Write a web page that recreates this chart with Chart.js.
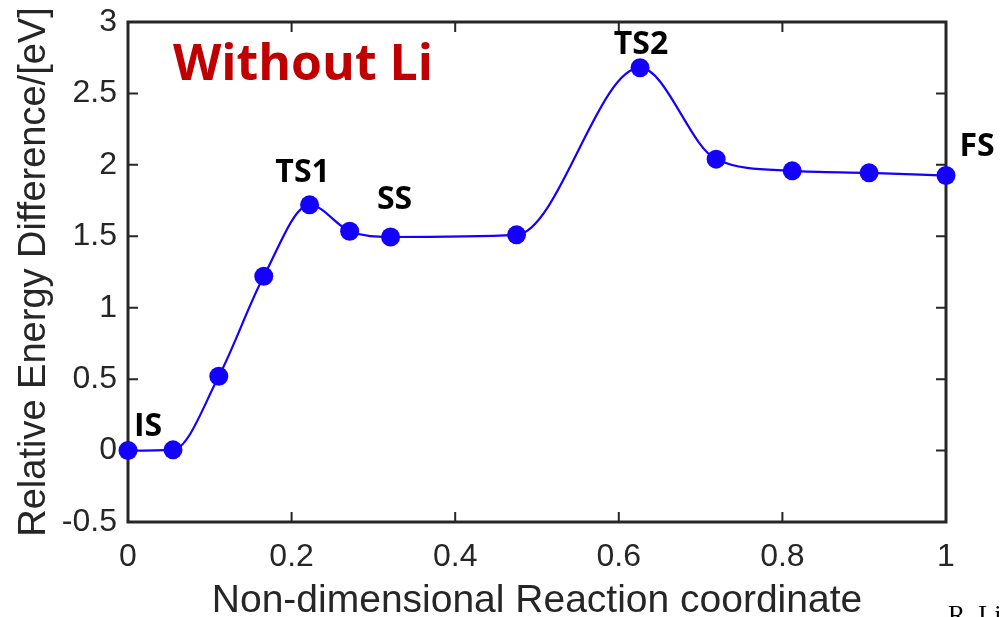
<!DOCTYPE html>
<html>
<head>
<meta charset="utf-8">
<script src="https://cdn.jsdelivr.net/npm/chart.js@4"></script>
<style>
    body { margin: 0; background: #fff; }
    #wrap { position: relative; width: 1000px; height: 617px; }
</style>
</head>
<body>
<div id="wrap"><canvas id="energyChart" width="1000" height="617"></canvas></div>
<script>
// reaction coordinate and relative energy (eV)
const coords = [0, 0.055, 0.111, 0.166, 0.222, 0.271, 0.321, 0.475, 0.626, 0.719, 0.812, 0.906, 1.0];
const energies = [0, 0.005, 0.52, 1.22, 1.72, 1.535, 1.495, 1.51, 2.68, 2.04, 1.958, 1.944, 1.925];
const xTicks = [0, 0.2, 0.4, 0.6, 0.8, 1];
const yTicks = [-0.5, 0, 0.5, 1, 1.5, 2, 2.5, 3];
const stateNames = ["IS", "TS1", "SS", "TS2", "FS"];
const statePoints = [0, 4, 6, 8, 12];

const axisColor = "#262626";
const lineBlue = "#1400ff";

// pixel nudges for the state labels, relative to their point
const labelShift = {
    IS: [20, -15], TS1: [-7, -23], SS: [4, -28], TS2: [1, -14], FS: [31, -20]
};

const boxPlugin = {
    id: "matlabBox",
    beforeDatasetsDraw(chart) {
        const { ctx, chartArea: a, scales } = chart;
        ctx.save();
        ctx.strokeStyle = axisColor;
        ctx.lineWidth = 3;
        ctx.strokeRect(a.left, a.top, a.right - a.left, a.bottom - a.top);
        ctx.lineWidth = 2;
        ctx.beginPath();
        xTicks.forEach(v => {
            const px = scales.x.getPixelForValue(v);
            ctx.moveTo(px, a.bottom); ctx.lineTo(px, a.bottom - 10);
            ctx.moveTo(px, a.top); ctx.lineTo(px, a.top + 10);
        });
        yTicks.forEach(v => {
            const py = scales.y.getPixelForValue(v);
            ctx.moveTo(a.left, py); ctx.lineTo(a.left + 10, py);
            ctx.moveTo(a.right, py); ctx.lineTo(a.right - 10, py);
        });
        ctx.stroke();
        ctx.restore();
    },
    afterDraw(chart) {
        const { ctx, scales } = chart;
        ctx.save();
        ctx.textAlign = "center";
        ctx.textBaseline = "alphabetic";
        ctx.fillStyle = "#000";
        ctx.font = "bold 32px 'Open Sans'";
        stateNames.forEach((name, i) => {
            const k = statePoints[i];
            const px = scales.x.getPixelForValue(coords[k]);
            const py = scales.y.getPixelForValue(energies[k]);
            ctx.fillText(name, px + labelShift[name][0], py + labelShift[name][1]);
        });
        ctx.fillStyle = "#c00000";
        ctx.font = "bold 50px 'Open Sans'";
        ctx.fillText("Without Li", 303, 80);
        ctx.fillStyle = "#000";
        ctx.textAlign = "left";
        ctx.font = "26px 'Liberation Serif'";
        ctx.fillText("R. Li", 948, 623);
        ctx.restore();
    }
};

new Chart(document.getElementById("energyChart"), {
    type: "line",
    data: {
        datasets: [{
            data: coords.map((c, i) => ({ x: c, y: energies[i] })),
            borderColor: lineBlue,
            backgroundColor: lineBlue,
            borderWidth: 2.2,
            pointRadius: 9.5,
            pointBorderWidth: 0,
            pointBackgroundColor: lineBlue,
            cubicInterpolationMode: "monotone",
            fill: false,
            clip: false
        }]
    },
    options: {
        responsive: false,
        animation: false,
        layout: { padding: { left: 10, top: 22, right: 54, bottom: 0 } },
        plugins: { legend: { display: false }, tooltip: { enabled: false } },
        scales: {
            x: {
                type: "linear",
                min: 0,
                max: 1,
                afterFit(scale) { scale.height = 95; },
                afterBuildTicks(scale) { scale.ticks = xTicks.map(v => ({ value: v })); },
                grid: { display: false, drawTicks: false },
                border: { display: false },
                ticks: {
                    color: axisColor,
                    padding: 16,
                    font: { family: "'Liberation Sans'", size: 32 },
                    maxRotation: 0,
                    callback: v => String(v)
                },
                title: {
                    display: true,
                    text: "Non-dimensional Reaction coordinate",
                    color: axisColor,
                    font: { family: "'Liberation Sans'", size: 39, lineHeight: 0.6 }
                }
            },
            y: {
                min: -0.5,
                max: 3,
                afterFit(scale) {
                    scale.width = 118;
                    scale.paddingTop = 0;
                    scale.paddingBottom = 0;
                },
                afterBuildTicks(scale) { scale.ticks = yTicks.map(v => ({ value: v })); },
                grid: { display: false, drawTicks: false },
                border: { display: false },
                ticks: {
                    color: axisColor,
                    padding: 11,
                    font: { family: "'Liberation Sans'", size: 32 },
                    callback: v => String(v)
                },
                title: {
                    display: true,
                    text: "Relative Energy Difference/[eV]",
                    color: axisColor,
                    font: { family: "'Liberation Sans'", size: 38, lineHeight: 1.1 }
                }
            }
        }
    },
    plugins: [boxPlugin]
});
</script>
</body>
</html>
